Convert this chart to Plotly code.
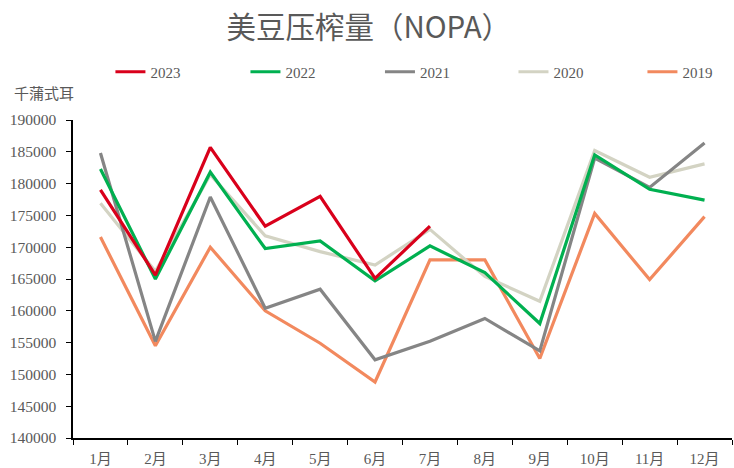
import plotly.graph_objects as go

months = ["1月", "2月", "3月", "4月", "5月", "6月", "7月", "8月", "9月", "10月", "11月", "12月"]
s2023 = [179000, 165600, 185700, 173300, 178000, 165100, 173300, None, None, None, None, None]
s2022 = [182300, 165000, 181800, 169800, 171000, 164700, 170200, 166000, 158000, 184500, 179100, 177400]
s2021 = [184800, 155200, 177900, 160400, 163400, 152300, 155200, 158800, 153700, 184000, 179400, 186400]
s2020 = [176900, 166200, 181400, 171800, 169300, 167200, 172800, 165400, 161500, 185200, 181000, 183100]
s2019 = [171600, 154500, 170000, 160000, 154900, 148800, 168000, 168000, 152500, 175300, 164900, 174800]

series = [
    ("2023", s2023, "#D9001B"),
    ("2022", s2022, "#00B050"),
    ("2021", s2021, "#858585"),
    ("2020", s2020, "#D3D3C3"),
    ("2019", s2019, "#F2895E"),
]
legend_x = [0.0568, 0.2617, 0.4658, 0.6684, 0.8641]

yticks = list(range(140000, 190001, 5000))

fig = go.Figure()
n = len(series)
legend_font = dict(family="Liberation Serif, Noto Sans CJK SC", size=15, color="#595959")
legends = {}
# draw in reverse so 2023 is on top
for idx in reversed(range(n)):
    name, vals, color = series[idx]
    lname = "legend" if idx == 0 else f"legend{idx + 1}"
    fig.add_trace(go.Scatter(
        x=months, y=vals, name=name, mode="lines",
        line=dict(color=color, width=3.2),
        legend=lname, connectgaps=False,
    ))
    legends[lname] = dict(orientation="h", x=legend_x[idx], xanchor="left", y=1.151, yanchor="middle",
                          font=legend_font, bgcolor="rgba(0,0,0,0)")

fig.update_layout(
    width=734, height=468,
    margin=dict(l=73, r=2, t=120, b=30),
    paper_bgcolor="white", plot_bgcolor="white",
    title=dict(text="美豆压榨量（NOPA）", x=0.5024, xanchor="center", y=0.9406, yanchor="middle",
               font=dict(family="Noto Sans CJK SC", size=29.5, color="#595959")),
    showlegend=True,
    annotations=[dict(text="千蒲式耳", xref="paper", yref="paper", x=-0.0926, y=1.088,
                      xanchor="left", yanchor="middle", showarrow=False,
                      font=dict(family="Noto Sans CJK SC", size=15, color="#595959"))],
    **legends,
)

fig.update_xaxes(
    type="category", range=[-0.5, 11.5], automargin=False,
    showgrid=False, showline=True, linecolor="#000000", linewidth=1.5,
    ticks="outside", tickson="boundaries", ticklen=5, tickcolor="#000000", ticklabelstandoff=6,
    tickfont=dict(family="Liberation Serif, Noto Sans CJK SC", size=15, color="#595959"),
)
fig.update_yaxes(
    range=[140000, 190000], tickvals=yticks, ticktext=[str(v) for v in yticks],
    automargin=False, showgrid=False, showline=True, linecolor="#000000", linewidth=1.5,
    ticks="outside", ticklen=5, tickcolor="#000000", zeroline=False, ticklabelstandoff=7,
    tickfont=dict(family="Liberation Serif", size=15.5, color="#595959"),
)

fig.write_html("out.html", config={"displayModeBar": False},
               post_script="document.body.style.margin='0';")
